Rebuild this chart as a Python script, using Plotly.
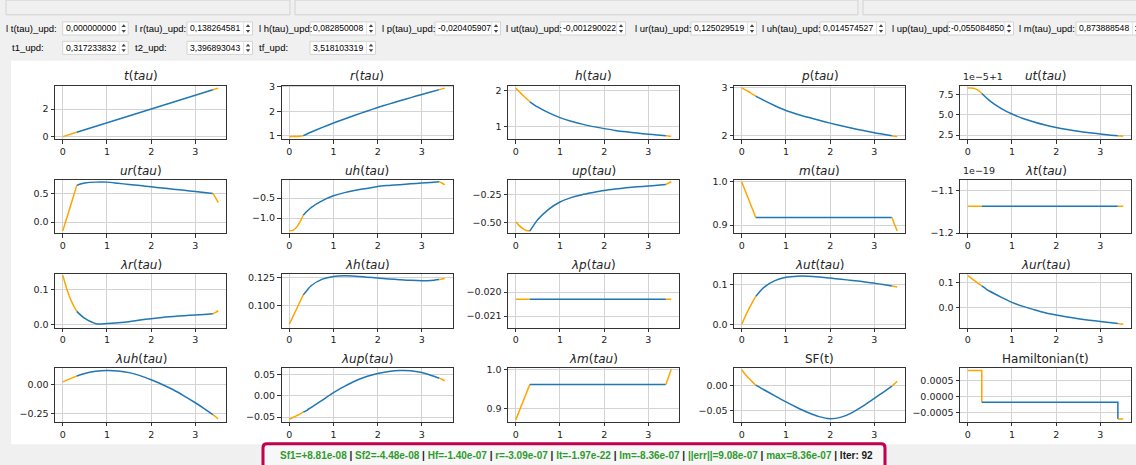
import plotly.graph_objects as go

W, H = 1136, 465

# ---------------- data ----------------
# switching times shown in the spin boxes
t1_txt, t2_txt, tf_txt = "0,317233832", "3,396893043", "3,518103319"

tau_arc1 = [0.0, 0.08, 0.16, 0.24, 0.317]
tau_arc2 = [0.317, 0.4, 0.5, 0.75, 1.0, 1.25, 1.5, 1.75, 2.0, 2.25, 2.5, 2.75, 3.0, 3.2, 3.397]
tau_arc3 = [3.397, 3.46, 3.518]
tau = tau_arc1 + tau_arc2 + tau_arc3
arc_lengths = [5, 15, 3]

t_vals = [0.0, 0.08, 0.16, 0.24, 0.317, 0.317, 0.4, 0.5, 0.75, 1.0, 1.25, 1.5, 1.75, 2.0, 2.25,
          2.5, 2.75, 3.0, 3.2, 3.397, 3.397, 3.46, 3.518]
r_vals = [0.950, 0.951, 0.956, 0.970, 0.990, 0.990, 1.06, 1.14, 1.33, 1.51, 1.68, 1.84, 2.00, 2.15,
          2.29, 2.43, 2.56, 2.69, 2.79, 2.89, 2.89, 2.92, 2.95]
h_vals = [2.06, 1.96, 1.86, 1.77, 1.68, 1.68, 1.61, 1.53, 1.37, 1.24, 1.14, 1.06, 0.99, 0.935, 0.885,
          0.845, 0.81, 0.78, 0.76, 0.74, 0.74, 0.73, 0.72]
p_vals = [2.99, 2.95, 2.91, 2.86, 2.82, 2.82, 2.78, 2.73, 2.62, 2.52, 2.445, 2.38, 2.32, 2.26, 2.205,
          2.155, 2.105, 2.06, 2.03, 2.00, 2.00, 1.99, 1.98]
ut_vals = [8.30, 8.29, 8.22, 8.00, 7.62, 7.62, 7.20, 6.72, 5.80, 5.10, 4.55, 4.12, 3.75, 3.45, 3.20,
           2.98, 2.80, 2.64, 2.52, 2.42, 2.42, 2.39, 2.36]          # (x1e-5) + 1
ur_vals = [-0.155, 0.045, 0.245, 0.445, 0.64, 0.64, 0.665, 0.682, 0.697, 0.697, 0.677, 0.656, 0.636,
           0.615, 0.595, 0.574, 0.554, 0.533, 0.517, 0.50, 0.50, 0.42, 0.34]
uh_vals = [-1.32, -1.31, -1.24, -1.10, -0.93, -0.93, -0.83, -0.73, -0.56, -0.44, -0.36, -0.30, -0.255,
           -0.205, -0.18, -0.16, -0.14, -0.12, -0.105, -0.09, -0.09, -0.125, -0.165]
up_vals = [-0.494, -0.53, -0.557, -0.575, -0.58, -0.58, -0.53, -0.475, -0.38, -0.315, -0.275, -0.248,
           -0.228, -0.21, -0.197, -0.186, -0.177, -0.169, -0.162, -0.155, -0.155, -0.142, -0.128]
m_vals = [1.0, 0.979, 0.958, 0.938, 0.9175, 0.9175, 0.9175, 0.9175, 0.9175, 0.9175, 0.9175, 0.9175,
          0.9175, 0.9175, 0.9175, 0.9175, 0.9175, 0.9175, 0.9175, 0.9175, 0.9175, 0.902, 0.886]
lt_vals = [-1.1375] * 23                                           # (x1e-19)
lr_vals = [0.139, 0.105, 0.077, 0.055, 0.038, 0.038, 0.028, 0.018, 0.0035, 0.004, 0.006, 0.009, 0.0135,
           0.0175, 0.021, 0.0235, 0.026, 0.028, 0.0295, 0.031, 0.031, 0.035, 0.040]
lh_vals = [0.0828, 0.0895, 0.0962, 0.103, 0.1095, 0.1095, 0.1135, 0.118, 0.1238, 0.1263, 0.1268, 0.1264,
           0.1256, 0.1248, 0.124, 0.1233, 0.1227, 0.1224, 0.1226, 0.1235, 0.1235, 0.124, 0.1244]
lp_vals = [-0.0203] * 23
lut_vals = [0.0, 0.02, 0.039, 0.056, 0.071, 0.071, 0.082, 0.094, 0.111, 0.1195, 0.1225, 0.1225, 0.1205,
            0.1175, 0.1145, 0.1115, 0.1085, 0.1045, 0.101, 0.0975, 0.0975, 0.0962, 0.095]
lur_vals = [0.128, 0.118, 0.107, 0.097, 0.087, 0.087, 0.077, 0.066, 0.043, 0.022, 0.006, -0.007, -0.019,
            -0.028, -0.036, -0.043, -0.049, -0.054, -0.058, -0.062, -0.062, -0.0635, -0.065]
luh_vals = [0.020, 0.033, 0.046, 0.059, 0.071, 0.071, 0.082, 0.093, 0.111, 0.118, 0.114, 0.100, 0.074,
            0.038, -0.002, -0.048, -0.102, -0.16, -0.21, -0.262, -0.262, -0.281, -0.300]
lup_vals = [-0.055, -0.051, -0.047, -0.043, -0.0385, -0.0385, -0.034, -0.027, -0.010, 0.0075, 0.022,
            0.035, 0.045, 0.052, 0.0565, 0.059, 0.0585, 0.054, 0.048, 0.041, 0.041, 0.038, 0.035]
lm_vals = [0.870, 0.893, 0.916, 0.939, 0.961, 0.961, 0.961, 0.961, 0.961, 0.961, 0.961, 0.961, 0.961,
           0.961, 0.961, 0.961, 0.961, 0.961, 0.961, 0.961, 0.961, 0.981, 1.0]
sf_vals = [0.0305, 0.021, 0.0135, 0.0065, 0.0, 0.0, -0.004, -0.009, -0.021, -0.033, -0.044, -0.054,
           -0.062, -0.066, -0.063, -0.054, -0.041, -0.026, -0.014, -0.002, -0.002, 0.003, 0.0078]
ham_tau = [0.0, 0.317, 0.317, 0.317, 3.397, 3.397, 3.397, 3.518]
ham_vals = [8.0e-4, 8.0e-4, -1.85e-4, -1.85e-4, -1.85e-4, -7.0e-4, -7.0e-4, -7.0e-4]
ham_lengths = [3, 3, 2]

# spin-box texts
row1_labels = ["l t(tau)_upd:", "l r(tau)_upd:", "l h(tau)_upd:", "l p(tau)_upd:", "l ut(tau)_upd:",
               "l ur(tau)_upd:", "l uh(tau)_upd:", "l up(tau)_upd:", "l m(tau)_upd:"]
row1_values = ["0,000000000", "0,138264581", "0,082850008", "-0,020405907", "-0,001290022",
               "0,125029519", "0,014574527", "-0,055084850", "0,873888548"]
row2_labels = ["t1_upd:", "t2_upd:", "tf_upd:"]
row2_values = [t1_txt, t2_txt, tf_txt]

status_items = ["Sf1=+8.81e-08", "Sf2=-4.48e-08", "Hf=-1.40e-07", "r=-3.09e-07", "lt=-1.97e-22",
                "lm=-8.36e-07", "||err||=9.08e-07", "max=8.36e-07"]
status_iter = "Iter: 92"

# ---------------- subplot specifications ----------------
# (title, tau, values, lengths, y-range, tickvals, tickformat, offset text, line shape)
specs = [
    ("<i>t</i>(<i>tau</i>)", tau, t_vals, arc_lengths, [-0.176, 3.694], [0, 2], ".0f", None, "linear"),
    ("<i>r</i>(<i>tau</i>)", tau, r_vals, arc_lengths, [0.85, 3.05], [1, 2, 3], ".0f", None, "spline"),
    ("<i>h</i>(<i>tau</i>)", tau, h_vals, arc_lengths, [0.645, 2.126], [1, 2], ".0f", None, "spline"),
    ("<i>p</i>(<i>tau</i>)", tau, p_vals, arc_lengths, [1.93, 3.035], [2, 3], ".0f", None, "spline"),
    ("<i>ut</i>(<i>tau</i>)", tau, ut_vals, arc_lengths, [2.02, 8.58], [2.5, 5.0, 7.5], ".1f", "1e\u22125+1", "spline"),
    ("<i>ur</i>(<i>tau</i>)", tau, ur_vals, arc_lengths, [-0.197, 0.735], [0.0, 0.5], ".1f", None, "spline"),
    ("<i>uh</i>(<i>tau</i>)", tau, uh_vals, arc_lengths, [-1.383, -0.042], [-1.0, -0.5], ".1f", None, "spline"),
    ("<i>up</i>(<i>tau</i>)", tau, up_vals, arc_lengths, [-0.6, -0.114], [-0.5, -0.25], ".2f", None, "spline"),
    ("<i>m</i>(<i>tau</i>)", tau, m_vals, arc_lengths, [0.8808, 1.0046], [0.9, 1.0], ".1f", None, "linear"),
    ("<i>λt</i>(<i>tau</i>)", tau, lt_vals, arc_lengths, [-1.2005, -1.076], [-1.2, -1.1], ".1f", "1e\u221219", "linear"),
    ("<i>λr</i>(<i>tau</i>)", tau, lr_vals, arc_lengths, [-0.0073, 0.1422], [0.0, 0.1], ".1f", None, "spline"),
    ("<i>λh</i>(<i>tau</i>)", tau, lh_vals, arc_lengths, [0.0798, 0.1283], [0.100, 0.125], ".3f", None, "spline"),
    ("<i>λp</i>(<i>tau</i>)", tau, lp_vals, arc_lengths, [-0.02148, -0.01925], [-0.021, -0.020], ".3f", None, "linear"),
    ("<i>λut</i>(<i>tau</i>)", tau, lut_vals, arc_lengths, [-0.0083, 0.1275], [0.0, 0.1], ".1f", None, "spline"),
    ("<i>λur</i>(<i>tau</i>)", tau, lur_vals, arc_lengths, [-0.0779, 0.1338], [0.0, 0.1], ".1f", None, "spline"),
    ("<i>λuh</i>(<i>tau</i>)", tau, luh_vals, arc_lengths, [-0.324, 0.1364], [-0.25, 0.0], ".2f", None, "spline"),
    ("<i>λup</i>(<i>tau</i>)", tau, lup_vals, arc_lengths, [-0.0608, 0.0638], [-0.05, 0.0, 0.05], ".2f", None, "spline"),
    ("<i>λm</i>(<i>tau</i>)", tau, lm_vals, arc_lengths, [0.8652, 1.0027], [0.9, 1.0], ".1f", None, "linear"),
    ("SF(t)", tau, sf_vals, arc_lengths, [-0.0721, 0.0331], [-0.05, 0.0], ".2f", None, "spline"),
    ("Hamiltonian(t)", ham_tau, ham_vals, ham_lengths, [-0.000786, 0.000867], [-0.0005, 0.0, 0.0005], ".4f", None, "linear"),
]

BLUE = "#1f77b4"
ORANGE = "#FFA500"
X_RANGE = [-0.176, 3.694]

col_left = [55, 281.5, 508, 734, 960]
ax_w = 171
row_top = [82.5, 178.8, 275.1, 371.4]
ax_h = 54.5


def fx(x):
    return x / W


def fy(y):
    return 1 - y / H


fig = go.Figure()
shapes = []
annotations = []

# page pieces (Qt window look)
shapes.append(dict(type="rect", xref="paper", yref="paper", x0=fx(11), x1=fx(1140), y0=fy(449), y1=fy(57),
                   fillcolor="white", line=dict(width=0), layer="below"))
for gx0, gx1 in [(6, 290), (295, 858), (863, 1145)]:
    shapes.append(dict(type="rect", xref="paper", yref="paper", x0=fx(gx0), x1=fx(gx1), y0=fy(10), y1=fy(-5),
                       fillcolor="rgba(0,0,0,0)", line=dict(color="#d2d2d2", width=1), layer="below"))

label_font = dict(family="Liberation Sans, Arial, sans-serif", size=9.5, color="#000")
value_font = dict(family="Liberation Sans, Arial, sans-serif", size=8.6, color="#000")


def spinbox(lx, fxl, ycen, label, value):
    annotations.append(dict(x=fx(lx), y=fy(ycen), xref="paper", yref="paper", text=label, showarrow=False,
                            xanchor="left", yanchor="middle", font=label_font))
    top, bot = ycen - 6.7, ycen + 6.7
    shapes.append(dict(type="rect", xref="paper", yref="paper", x0=fx(fxl), x1=fx(fxl + 65.5), y0=fy(bot),
                       y1=fy(top), fillcolor="white", line=dict(color="#d4d4d4", width=1), layer="above"))
    shapes.append(dict(type="line", xref="paper", yref="paper", x0=fx(fxl + 56.5), x1=fx(fxl + 56.5),
                       y0=fy(bot), y1=fy(top), line=dict(color="#e4e4e4", width=1), layer="above"))
    ax_c = fxl + 61
    shapes.append(dict(type="path", xref="paper", yref="paper", layer="above",
                       path=f"M {fx(ax_c-2.2)},{fy(ycen-1.5)} L {fx(ax_c+2.2)},{fy(ycen-1.5)} L {fx(ax_c)},{fy(ycen-4.3)} Z",
                       fillcolor="#444", line=dict(width=0)))
    shapes.append(dict(type="path", xref="paper", yref="paper", layer="above",
                       path=f"M {fx(ax_c-2.2)},{fy(ycen+1.5)} L {fx(ax_c+2.2)},{fy(ycen+1.5)} L {fx(ax_c)},{fy(ycen+4.3)} Z",
                       fillcolor="#444", line=dict(width=0)))
    annotations.append(dict(x=fx(fxl + 1.0), y=fy(ycen), xref="paper", yref="paper", text=value, showarrow=False,
                            xanchor="left", yanchor="middle", font=value_font))


row1_lx = [3.5, 133, 257, 380, 504, 633, 760, 890, 1017]
row1_fx = [62.7, 187, 310, 435, 560, 691, 820, 948, 1076]
for lx, fxl, lab, val in zip(row1_lx, row1_fx, row1_labels, row1_values):
    spinbox(lx, fxl, 24, lab, val)
row2_lx = [10, 133, 257]
row2_fx = [62.7, 187, 310]
for lx, fxl, lab, val in zip(row2_lx, row2_fx, row2_labels, row2_values):
    spinbox(lx, fxl, 43.8, lab, val)

# ---------------- subplots ----------------
axis_common = dict(showline=True, linecolor="#333333", linewidth=1, mirror=True, ticks="outside", ticklen=3.5,
                   tickwidth=1, tickcolor="#333333", showgrid=True, gridcolor="#d3d3d3", gridwidth=1,
                   zeroline=False, fixedrange=True,
                   tickfont=dict(family="DejaVu Sans, sans-serif", size=9.5, color="#222222"))

layout_axes = {}
for k, (title, xs, ys, lens, yr, tv, tf, offset, shape) in enumerate(specs):
    r, c = divmod(k, 5)
    x0 = col_left[c]
    x1 = x0 + ax_w
    y0 = row_top[r]
    y1 = y0 + ax_h
    n = k + 1
    xname = "xaxis" if n == 1 else f"xaxis{n}"
    yname = "yaxis" if n == 1 else f"yaxis{n}"
    xref = "x" if n == 1 else f"x{n}"
    yref = "y" if n == 1 else f"y{n}"
    layout_axes[xname] = dict(axis_common, domain=[fx(x0), fx(x1)], range=X_RANGE, tickvals=[0, 1, 2, 3],
                              ticktext=["0", "1", "2", "3"], anchor=yref)
    layout_axes[yname] = dict(axis_common, domain=[fy(y1), fy(y0)], range=yr, tickvals=tv, tickformat=tf,
                              anchor=xref)
    i0 = 0
    for seg, L in enumerate(lens):
        sx = xs[i0:i0 + L]
        sy = ys[i0:i0 + L]
        i0 += L
        fig.add_trace(go.Scatter(x=sx, y=sy, mode="lines", xaxis=xref, yaxis=yref, showlegend=False,
                                 hoverinfo="skip",
                                 line=dict(color=BLUE if seg == 1 else ORANGE, width=1.5, shape=shape,
                                           smoothing=0.8 if shape == "spline" else None)))
    annotations.append(dict(x=fx((x0 + x1) / 2), y=fy(y0 - 9.5), xref="paper", yref="paper", text=title,
                            showarrow=False, xanchor="center", yanchor="middle",
                            font=dict(family="DejaVu Sans, sans-serif", size=12, color="#222222")))
    if offset:
        annotations.append(dict(x=fx(x0 + 1), y=fy(y0 - 2), xref="paper", yref="paper", text=offset,
                                showarrow=False, xanchor="left", yanchor="bottom",
                                font=dict(family="DejaVu Sans, sans-serif", size=9.5, color="#222222")))

# ---------------- status bar ----------------
sx0, sx1, sy0, sy1, rr = 263, 885, 448.5, 472, 4
shapes.append(dict(type="path", xref="paper", yref="paper",
                   path=(f"M {fx(sx0)},{fy(sy1)} L {fx(sx0)},{fy(sy0+rr)} Q {fx(sx0)},{fy(sy0)} {fx(sx0+rr)},{fy(sy0)} "
                         f"L {fx(sx1-rr)},{fy(sy0)} Q {fx(sx1)},{fy(sy0)} {fx(sx1)},{fy(sy0+rr)} L {fx(sx1)},{fy(sy1)} Z"),
                   fillcolor="#f7f7f7", line=dict(color="#c2004f", width=3)))
GREEN = "#2f9a2f"
sep = "<span style='color:#1a1a1a'> | </span>"
status_html = "<b>" + sep.join(f"<span style='color:{GREEN}'>{s}</span>" for s in status_items) + sep + \
              f"<span style='color:#1a1a1a'>{status_iter}</span></b>"
annotations.append(dict(x=fx(576.5), y=fy(460.5), xref="paper", yref="paper", text=status_html,
                        showarrow=False, xanchor="center", yanchor="middle",
                        font=dict(family="Liberation Sans, Arial, sans-serif", size=10, color=GREEN)))

fig.update_layout(width=W, height=H, margin=dict(l=0, r=0, t=0, b=0), autosize=False,
                  paper_bgcolor="#f0f0f0", plot_bgcolor="white", showlegend=False,
                  shapes=shapes, annotations=annotations, **layout_axes)

fig.write_html("out.html", config={"displayModeBar": False})
